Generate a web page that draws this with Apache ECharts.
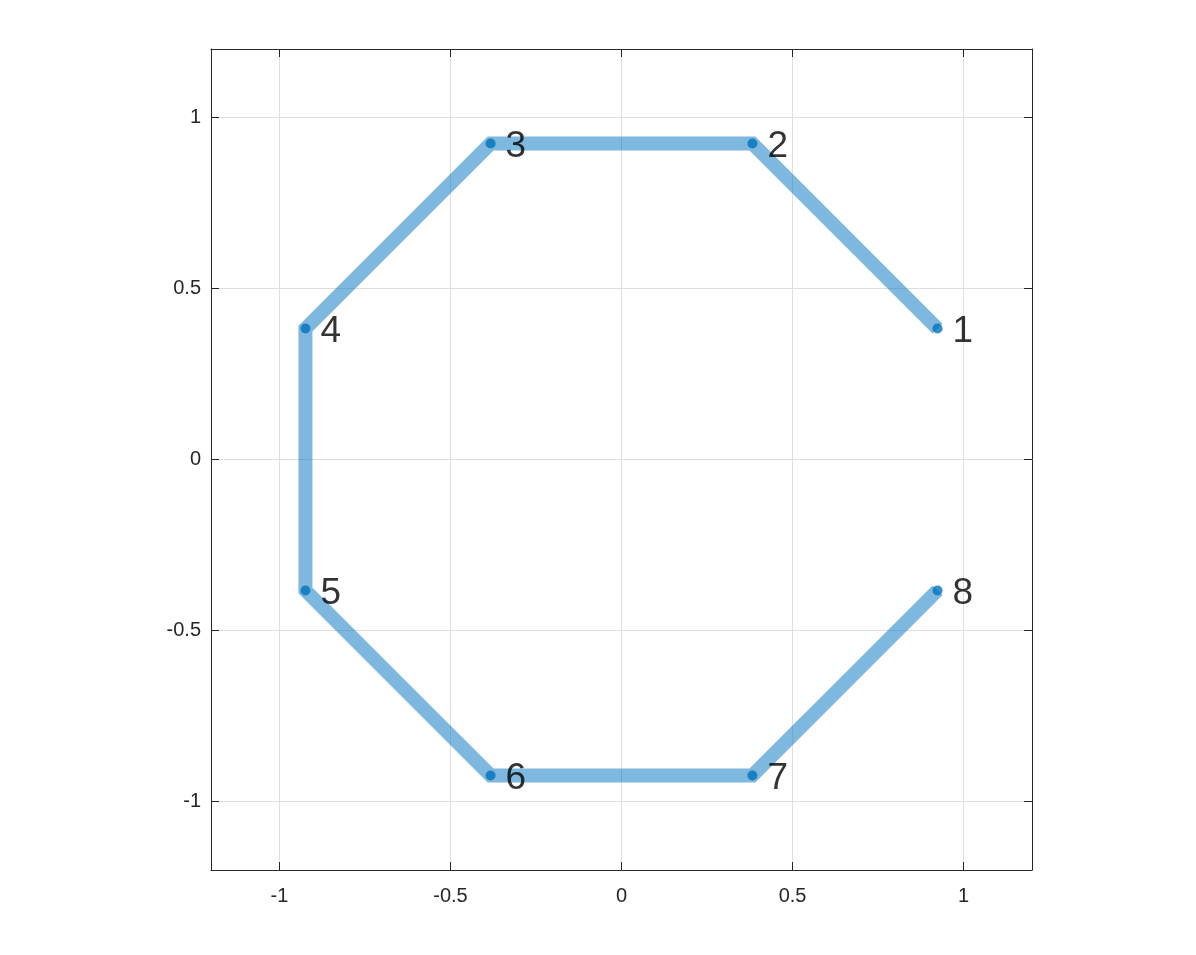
<!DOCTYPE html>
<html>
<head>
<meta charset="utf-8">
<script src="https://cdn.jsdelivr.net/npm/echarts@6/dist/echarts.min.js"></script>
<style>html,body{margin:0;padding:0;background:#fff;}#c{width:1196px;height:955px;}</style>
</head>
<body>
<div id="c"></div>
<script>
const xs = [0.9239, 0.3827, -0.3827, -0.9239, -0.9239, -0.3827, 0.3827, 0.9239];
const ys = [0.3827, 0.9239, 0.9239, 0.3827, -0.3827, -0.9239, -0.9239, -0.3827];
const labels = ['1','2','3','4','5','6','7','8'];
const tickValues = [-1, -0.5, 0, 0.5, 1];

const pts = xs.map((x, i) => [x, ys[i]]);
const font = 'Liberation Sans, Arial, Helvetica, sans-serif';
const axisColor = '#262626';

function mkAxis(pos, show, margin) {
  return {
    type: 'value', position: pos, min: -1.2, max: 1.2,
    axisLine: { show: true, onZero: false, lineStyle: { color: axisColor, width: 1 } },
    axisTick: { show: true, inside: true, length: 8, customValues: tickValues, lineStyle: { color: axisColor, width: 1 } },
    axisLabel: { show: show, customValues: tickValues, color: axisColor, fontSize: 20, fontFamily: font, margin: margin },
    splitLine: { show: show, lineStyle: { color: '#dedede', width: 1 } }
  };
}

const chart = echarts.init(document.getElementById('c'), null, { renderer: 'canvas' });
chart.setOption({
  backgroundColor: '#fff',
  animation: false,
  grid: { left: 211, right: 164, top: 49, bottom: 85, containLabel: false },
  xAxis: [mkAxis('bottom', true, 16), mkAxis('top', false, 8)],
  yAxis: [mkAxis('left', true, 10), mkAxis('right', false, 8)],
  series: [
    {
      type: 'line', data: pts, xAxisIndex: 0, yAxisIndex: 0,
      lineStyle: { color: 'rgba(0,114,189,0.5)', width: 14, join: 'miter' },
      symbol: 'none', z: 2
    },
    {
      type: 'scatter', data: pts, xAxisIndex: 0, yAxisIndex: 0,
      symbol: 'circle', symbolSize: 10,
      itemStyle: { color: '#0072BD' },
      label: {
        show: true, position: 'right', distance: 10,
        formatter: p => labels[p.dataIndex],
        color: '#000', fontSize: 37, fontFamily: font, offset: [0, 3]
      },
      z: 3
    }
  ]
});
</script>
</body>
</html>
